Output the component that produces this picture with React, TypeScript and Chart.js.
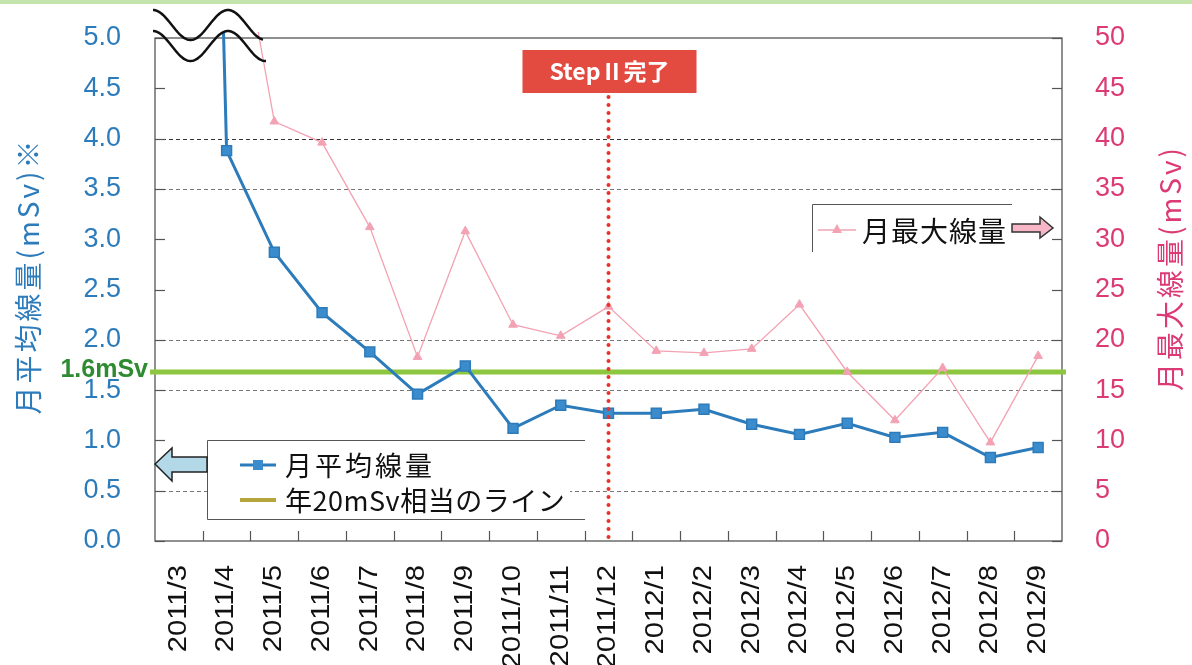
import React, { useEffect, useRef } from 'react';
import { Chart, registerables } from 'chart.js';
Chart.register(...registerables);

const categories = ['2011/3', '2011/4', '2011/5', '2011/6', '2011/7', '2011/8', '2011/9', '2011/10', '2011/11', '2011/12', '2012/1', '2012/2', '2012/3', '2012/4', '2012/5', '2012/6', '2012/7', '2012/8', '2012/9'];
// 月平均線量 (mSv, left axis) — first month is off-scale above the break
const monthlyAverage = [22, 3.88, 2.87, 2.27, 1.88, 1.46, 1.74, 1.12, 1.35, 1.27, 1.27, 1.31, 1.16, 1.06, 1.17, 1.03, 1.08, 0.83, 0.93];
// 月最大線量 (mSv, right axis) — 2011/4 is off-scale above the break
const monthlyMax = [null, 68, 41.7, 39.6, 31.2, 18.3, 30.8, 21.5, 20.4, 23.3, 18.9, 18.7, 19.1, 23.5, 16.8, 12.0, 17.2, 9.8, 18.4];
const leftGridLevels = [0.5, 1.5, 2.0, 3.5, 4.0];
const referenceLevel = 1.68;
const referenceLabel = '1.6mSv';
const stepCategoryIndex = 9;
const stepLabel = 'StepⅡ完了';
const leftTitle = '月平均線量(mSv)※';
const rightTitle = '月最大線量(mSv)';
const legendAvg = '月平均線量';
const legendRef = '年20mSv相当のライン';
const legendMax = '月最大線量';

const BLUE = '#2c7bbb';
const PINK_LINE = '#f3a2b3';
const PINK_TEXT = '#dc3a74';
const JP = '"Noto Sans CJK JP", "Noto Sans", sans-serif';
const LAT = '"Liberation Sans", Arial, sans-serif';

function line(ctx: CanvasRenderingContext2D, x1: number, y1: number, x2: number, y2: number) {
  ctx.beginPath();
  ctx.moveTo(x1, y1);
  ctx.lineTo(x2, y2);
  ctx.stroke();
}

function poly(ctx: CanvasRenderingContext2D, pts: number[][], fill: string, stroke: string) {
  ctx.beginPath();
  pts.forEach((p, i) => (i ? ctx.lineTo(p[0], p[1]) : ctx.moveTo(p[0], p[1])));
  ctx.closePath();
  ctx.fillStyle = fill;
  ctx.fill();
  ctx.strokeStyle = stroke;
  ctx.lineWidth = 1.5;
  ctx.stroke();
}

const overlay = {
  id: 'overlay',
  beforeDatasetsDraw(chart: any) {
    const { ctx, chartArea: a, scales } = chart;
    const y = scales.y, y1 = scales.y1, x = scales.x;
    ctx.save();
    ctx.fillStyle = '#c3e4ad';
    ctx.fillRect(0, 0, chart.width, 4);
    // grid lines
    ctx.lineWidth = 1;
    ctx.setLineDash([4, 3]);
    leftGridLevels.forEach((v) => {
      const py = Math.round(y.getPixelForValue(v)) + 0.5;
      ctx.strokeStyle = v === 4 ? '#333' : '#777';
      line(ctx, a.left, py, a.right, py);
    });
    ctx.setLineDash([]);
    // frame
    ctx.strokeStyle = '#555';
    ctx.lineWidth = 1.3;
    ctx.strokeRect(a.left, a.top, a.right - a.left, a.bottom - a.top);
    // inside ticks
    ctx.lineWidth = 1.2;
    y.ticks.forEach((t: any) => {
      const py = Math.round(y.getPixelForValue(t.value)) + 0.5;
      line(ctx, a.left, py, a.left + 10, py);
    });
    y1.ticks.forEach((t: any) => {
      const py = Math.round(y1.getPixelForValue(t.value)) + 0.5;
      line(ctx, a.right - 10, py, a.right, py);
    });
    for (let i = 1; i < categories.length; i++) {
      const px = Math.round((x.getPixelForTick(i - 1) + x.getPixelForTick(i)) / 2) + 0.5;
      line(ctx, px, a.bottom, px, a.bottom - 10);
    }
    // reference line
    const gy = y.getPixelForValue(referenceLevel);
    ctx.strokeStyle = '#8dc63f';
    ctx.lineWidth = 5;
    line(ctx, a.left - 5, gy, a.right + 4, gy);
    ctx.restore();
  },
  afterDatasetsDraw(chart: any) {
    const { ctx, chartArea: a, scales } = chart;
    const y = scales.y, x = scales.x;
    ctx.save();
    // red dotted Step II line
    const sx = x.getPixelForTick(stepCategoryIndex);
    ctx.fillStyle = '#e8322b';
    for (let py = 97; py <= a.bottom; py += 8) {
      ctx.beginPath();
      ctx.arc(sx, py, 2, 0, Math.PI * 2);
      ctx.fill();
    }
    ctx.fillStyle = '#e34a40';
    ctx.fillRect(sx - 86, 50, 174, 43);
    ctx.fillStyle = '#fff';
    ctx.font = `bold 23px ${JP}`;
    ctx.textAlign = 'center';
    ctx.textBaseline = 'middle';
    ctx.fillText(stepLabel, sx + 1, 71);

    // left legend box
    ctx.fillStyle = '#fff';
    ctx.fillRect(207, 440, 363, 80);
    ctx.strokeStyle = '#555';
    ctx.lineWidth = 1;
    line(ctx, 207.5, 440.5, 585, 440.5);
    line(ctx, 207.5, 519.5, 585, 519.5);
    line(ctx, 207.5, 440.5, 207.5, 519.5);
    ctx.strokeStyle = BLUE;
    ctx.lineWidth = 3;
    line(ctx, 240, 465, 276, 465);
    ctx.fillStyle = '#3a8ccc';
    ctx.fillRect(253, 460, 10, 10);
    ctx.strokeStyle = '#b4a53c';
    ctx.lineWidth = 4;
    line(ctx, 240, 500, 276, 500);
    ctx.fillStyle = '#111';
    ctx.font = `27px ${JP}`;
    ctx.textAlign = 'left';
    (ctx as any).letterSpacing = '3px';
    ctx.fillText(legendAvg, 285, 466);
    (ctx as any).letterSpacing = '0.5px';
    ctx.fillText(legendRef, 285, 501);
    (ctx as any).letterSpacing = '0px';
    // left arrow
    poly(ctx, [[155, 464], [172, 448], [172, 457], [207, 457], [207, 472], [172, 472], [172, 481]], '#b3d9e8', '#222');

    // right legend
    ctx.strokeStyle = '#555';
    ctx.lineWidth = 1;
    line(ctx, 812.5, 204.5, 1012, 204.5);
    line(ctx, 812.5, 204.5, 812.5, 252);
    ctx.strokeStyle = PINK_LINE;
    ctx.lineWidth = 1.5;
    line(ctx, 818, 230, 856, 230);
    ctx.fillStyle = PINK_LINE;
    ctx.beginPath();
    ctx.moveTo(837, 224);
    ctx.lineTo(842, 233);
    ctx.lineTo(832, 233);
    ctx.closePath();
    ctx.fill();
    ctx.fillStyle = '#111';
    ctx.font = `28px ${JP}`;
    (ctx as any).letterSpacing = '1px';
    ctx.fillText(legendMax, 862, 231);
    (ctx as any).letterSpacing = '0px';
    poly(ctx, [[1012, 224], [1040, 224], [1040, 217], [1053, 228], [1040, 238], [1040, 232], [1012, 232]], '#f6b6c5', '#333');

    // break marks
    ctx.strokeStyle = '#111';
    ctx.lineWidth = 2.5;
    [0, 21].forEach((off) => {
      ctx.beginPath();
      for (let px = 153; px <= 263 + off / 7; px += 1) {
        const py = 25 + off - 15 * Math.cos((2 * Math.PI * (px - 153)) / 75);
        px === 153 ? ctx.moveTo(px, py) : ctx.lineTo(px, py);
      }
      ctx.stroke();
    });

    // 1.6mSv label
    const gy = y.getPixelForValue(referenceLevel);
    ctx.fillStyle = '#2f8b32';
    ctx.font = `bold 25px ${LAT}`;
    ctx.textAlign = 'right';
    ctx.textBaseline = 'middle';
    ctx.fillText(referenceLabel, 148, gy - 2);

    // axis titles
    ctx.font = `28px ${JP}`;
    ctx.textAlign = 'center';
    ctx.save();
    ctx.translate(28, 276);
    ctx.rotate(-Math.PI / 2);
    ctx.fillStyle = BLUE;
    (ctx as any).letterSpacing = '3px';
    ctx.fillText(leftTitle, 0, 0);
    ctx.restore();
    ctx.save();
    ctx.translate(1170, 268);
    ctx.rotate(-Math.PI / 2);
    ctx.fillStyle = PINK_TEXT;
    (ctx as any).letterSpacing = '3px';
    ctx.fillText(rightTitle, 0, 0);
    ctx.restore();
    (ctx as any).letterSpacing = '0px';

    // x labels
    ctx.fillStyle = '#111';
    ctx.font = `25px ${LAT}`;
    categories.forEach((c, i) => {
      const px = x.getPixelForTick(i);
      ctx.save();
      ctx.translate(px, a.bottom + 24);
      ctx.rotate(-Math.PI / 2);
      ctx.scale(1.17, 1);
      ctx.textAlign = 'right';
      ctx.textBaseline = 'middle';
      ctx.fillText(c, 0, 0);
      ctx.restore();
    });
    ctx.restore();
  },
};

function fitY(width: number) {
  return (s: any) => {
    s.width = width;
    s.paddingTop = 0;
    s.paddingBottom = 0;
  };
}

export default function App() {
  const ref = useRef<HTMLCanvasElement>(null);
  useEffect(() => {
    const chart = new Chart(ref.current!, {
      type: 'line',
      data: {
        labels: categories,
        datasets: [
          {
            label: legendMax,
            data: monthlyMax,
            yAxisID: 'y1',
            borderColor: PINK_LINE,
            backgroundColor: PINK_LINE,
            borderWidth: 1.3,
            pointStyle: 'triangle',
            pointRadius: 5,
            pointBorderWidth: 1,
            tension: 0,
            spanGaps: false,
            clip: { left: 0, top: 6, right: 0, bottom: 0 },
          } as any,
          {
            label: legendAvg,
            data: monthlyAverage,
            yAxisID: 'y',
            borderColor: BLUE,
            backgroundColor: '#3a8ccc',
            borderWidth: 3,
            pointStyle: 'rect',
            pointRadius: 7,
            pointBorderColor: BLUE,
            pointBorderWidth: 1.5,
            tension: 0,
            clip: { left: 0, top: 6, right: 0, bottom: 0 },
          } as any,
        ],
      },
      options: {
        responsive: false,
        animation: false,
        devicePixelRatio: 1,
        layout: { padding: { top: 38, left: 0, right: 0, bottom: 0 } },
        plugins: { legend: { display: false }, tooltip: { enabled: false } },
        events: [],
        scales: {
          x: {
            type: 'category',
            offset: true,
            grid: { display: false },
            border: { display: false },
            ticks: { display: false },
            afterFit: (s: any) => { s.height = 159; s.paddingLeft = 0; s.paddingRight = 0; },
          },
          y: {
            position: 'left',
            min: 0,
            max: 5,
            grid: { display: false },
            border: { display: false },
            ticks: {
              stepSize: 0.5,
              padding: 26,
              color: BLUE,
              font: { family: LAT, size: 27 },
              callback: (v: any) => Number(v).toFixed(1),
            },
            afterFit: fitY(155),
          },
          y1: {
            position: 'right',
            min: 0,
            max: 50,
            grid: { display: false },
            border: { display: false },
            ticks: {
              stepSize: 5,
              padding: 25,
              color: PINK_TEXT,
              font: { family: LAT, size: 27 },
            },
            afterFit: fitY(130),
          },
        },
      } as any,
      plugins: [overlay],
    });
    return () => chart.destroy();
  }, []);
  return (
    <div style={{ position: 'absolute', left: 0, top: 0, width: 1192, height: 700, background: '#fff' }}>
      <canvas ref={ref} width={1192} height={700} style={{ display: 'block' }} />
    </div>
  );
}
